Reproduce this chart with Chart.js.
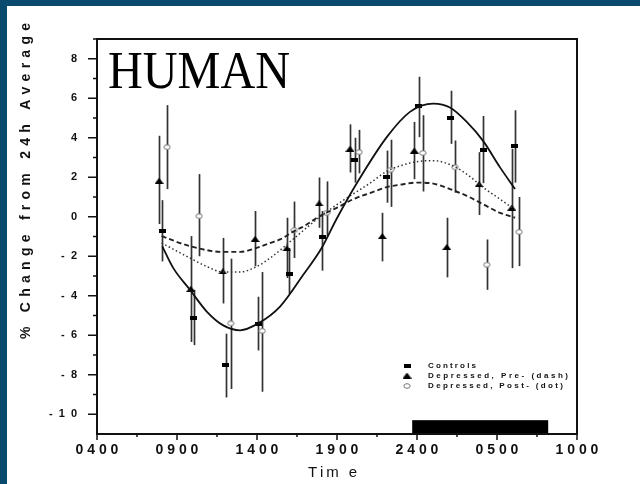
<!DOCTYPE html>
<html>
<head>
<meta charset="utf-8">
<script src="https://cdn.jsdelivr.net/npm/chart.js@4.4.1/dist/chart.umd.min.js"></script>
<style>
  html, body { margin: 0; padding: 0; background: #fff; }
  #wrap { width: 640px; height: 484px; position: relative; }
</style>
</head>
<body>
<div id="wrap"><canvas id="chart" width="640" height="484"></canvas></div>
<script>
// time in hours: 4 = 0400, 24 = midnight, 34 = 1000 next day
const xTicks = [4, 9, 14, 19, 24, 29, 34];
const xTickLabels = ['0 4 0 0', '0 9 0 0', '1 4 0 0', '1 9 0 0', '2 4 0 0', '0 5 0 0', '1 0 0 0'];
const yTicks = [-10, -8, -6, -4, -2, 0, 2, 4, 6, 8];
const yTickLabels = ['-  1  0', '-  8', '-  6', '-  4', '-  2', '0', '2', '4', '6', '8'];

// controls (filled squares)
const ctrlTime = [8.08, 10.06, 12.06, 14.08, 16.02, 18.08, 20.12, 22.1, 24.12, 26.12, 28.14, 30.12];
const ctrlMean = [-0.7, -5.12, -7.53, -5.41, -2.9, -1.0, 2.88, 2.03, 5.6, 5.0, 3.4, 3.56];
const ctrlHi   = [0.84, -3.7, -5.92, -4.05, -1.58, 0.29, 4.0, 3.35, 7.09, 6.38, 5.1, 5.39];
const ctrlLo   = [-2.26, -6.5, -9.15, -6.77, -3.9, -2.73, 1.73, 0.71, 4.03, 3.69, 1.7, 1.73];

// depressed, pre (triangles)
const preTime = [7.88, 9.86, 11.86, 13.88, 15.86, 17.88, 19.81, 21.83, 23.83, 25.86, 27.88, 29.92];
const preMean = [1.82, -3.65, -2.77, -1.12, -1.6, 0.68, 3.44, -0.98, 3.35, -1.53, 1.65, 0.46];
const preHi   = [4.1, -0.98, -1.07, 0.29, -0.05, 1.99, 4.68, 0.2, 4.8, -0.05, 3.27, 3.44];
const preLo   = [-0.37, -6.34, -4.39, -2.5, -3.1, -0.56, 2.24, -2.26, 1.9, -3.07, 0.09, -2.6];

// depressed, post (open circles)
const postTime = [8.38, 10.38, 12.36, 14.33, 16.33, 18.35, 20.38, 22.35, 24.36, 26.38, 28.36, 30.38];
const postMean = [3.52, 0.03, -5.4, -5.78, -0.68, 0.2, 3.27, 2.38, 3.23, 2.5, -2.43, -0.77];
const postHi   = [5.65, 2.16, -2.12, -2.8, 0.77, 1.79, 4.4, 3.9, 5.14, 3.86, -1.15, 1.0];
const postLo   = [1.4, -2.0, -8.72, -8.86, -2.09, -1.0, 2.2, 0.5, 1.28, 1.22, -3.7, -2.5];

// fitted curves
const ctrlFitTime = [8.08, 8.77, 9.81, 10.86, 11.89, 12.94, 14.08, 15.44, 16.89, 18.04, 18.98, 20.33, 22.11, 23.56, 25.02, 26.06, 27.11, 28.14, 29.19, 30.13];
const ctrlFit     = [-1.5, -2.6, -3.7, -4.8, -5.5, -5.75, -5.4, -4.55, -2.94, -1.58, -0.1, 1.82, 4.03, 5.31, 5.73, 5.53, 4.8, 3.83, 2.5, 1.4];
const preFitTime = [8.04, 9.81, 11.89, 12.94, 13.98, 14.81, 15.44, 16.38, 16.89, 17.94, 18.98, 20.02, 21.06, 22.11, 22.94, 23.98, 25.02, 26.06, 27.11, 28.14, 29.19, 30.13];
const preFit     = [-0.98, -1.49, -1.78, -1.78, -1.58, -1.33, -1.15, -0.7, -0.5, 0.04, 0.45, 0.89, 1.2, 1.5, 1.62, 1.73, 1.68, 1.4, 1.06, 0.63, 0.2, -0.05];
const postFitTime = [8.04, 9.81, 10.86, 11.89, 12.94, 13.98, 14.81, 16.38, 17.94, 19.5, 21.06, 22.11, 23.56, 24.2, 25.02, 26.06, 27.11, 28.14, 29.19, 30.13];
const postFit     = [-1.33, -2.09, -2.52, -2.8, -2.8, -2.52, -2.1, -1.05, 0.0, 0.89, 1.7, 2.3, 2.72, 2.81, 2.84, 2.64, 2.16, 1.48, 0.89, 0.35];

// dark period bar (hours)
const nightBar = [23.7, 32.2];
const nightBarTop = -10.3;

const legendLabels = ['Controls', 'Depressed, Pre- (dash)', 'Depressed, Post- (dot)'];

const FONT = '"Liberation Sans", Arial, sans-serif';

function pts(xs, ys) { return xs.map((x, i) => ({ x: x, y: ys[i] })); }

function rectMark() {
    const c = document.createElement('canvas');
    c.width = 7; c.height = 4;
    const g = c.getContext('2d');
    g.fillStyle = '#000';
    g.fillRect(0, 0, 7, 4);
    return c;
}
function triMark() {
    const c = document.createElement('canvas');
    c.width = 9; c.height = 6;
    const g = c.getContext('2d');
    g.fillStyle = '#000';
    g.beginPath();
    g.moveTo(0, 6); g.lineTo(4.5, 0); g.lineTo(9, 6); g.closePath();
    g.fill();
    return c;
}
function circMark() {
    const c = document.createElement('canvas');
    c.width = 8; c.height = 6;
    const g = c.getContext('2d');
    g.fillStyle = '#fff';
    g.strokeStyle = '#777';
    g.lineWidth = 1;
    g.beginPath();
    g.ellipse(4, 3, 3.2, 2.3, 0, 0, Math.PI * 2);
    g.fill(); g.stroke();
    return c;
}
const mkRect = rectMark(), mkTri = triMark(), mkCirc = circMark();

// draws text with its letters spread over a given width
function spaced(ctx, text, x, y, width) {
    const chars = [...text];
    const natural = chars.reduce((s, c) => s + ctx.measureText(c).width, 0);
    const gap = (width - natural) / (chars.length - 1);
    let cx = x;
    chars.forEach(c => {
        ctx.fillText(c, cx, y);
        cx += ctx.measureText(c).width + gap;
    });
}

const errorBars = {
    id: 'errorBars',
    beforeDatasetsDraw(chart) {
        const ctx = chart.ctx, xs = chart.scales.x, ys = chart.scales.y;
        ctx.save();
        // lights-off bar
        ctx.fillStyle = '#000';
        const bx0 = xs.getPixelForValue(nightBar[0]), bx1 = xs.getPixelForValue(nightBar[1]);
        const by0 = ys.getPixelForValue(nightBarTop);
        ctx.fillRect(bx0, by0, bx1 - bx0, chart.chartArea.bottom - by0);

        ctx.strokeStyle = '#333';
        ctx.lineWidth = 1.7;
        [[ctrlTime, ctrlHi, ctrlLo], [preTime, preHi, preLo], [postTime, postHi, postLo]].forEach(s => {
            s[0].forEach((t, i) => {
                const px = Math.round(xs.getPixelForValue(t)) + 0.5;
                ctx.beginPath();
                ctx.moveTo(px, ys.getPixelForValue(s[1][i]));
                ctx.lineTo(px, ys.getPixelForValue(s[2][i]));
                ctx.stroke();
            });
        });
        ctx.restore();
    },
    afterDraw(chart) {
        const ctx = chart.ctx, xs = chart.scales.x, ys = chart.scales.y, a = chart.chartArea;
        ctx.save();
        // page frame
        ctx.fillStyle = '#0a4a6e';
        ctx.fillRect(0, 0, 640, 6);
        ctx.fillRect(0, 0, 7, 484);

        // plot box
        ctx.strokeStyle = '#111';
        ctx.lineWidth = 2;
        ctx.strokeRect(a.left, a.top, a.right - a.left, a.bottom - a.top);

        // tick marks
        ctx.lineWidth = 1.5;
        ctx.beginPath();
        xTicks.forEach((v, i) => {
            const px = xs.getPixelForValue(v);
            ctx.moveTo(px, a.bottom); ctx.lineTo(px, a.bottom + 6);
            if (i < xTicks.length - 1) {
                const mx = xs.getPixelForValue((v + xTicks[i + 1]) / 2);
                ctx.moveTo(mx, a.bottom); ctx.lineTo(mx, a.bottom + 3);
            }
        });
        yTicks.forEach((v, i) => {
            const py = ys.getPixelForValue(v);
            ctx.moveTo(a.left, py); ctx.lineTo(a.left - 9, py);
            const my = ys.getPixelForValue(v + 1);
            ctx.moveTo(a.left, my); ctx.lineTo(a.left - 4, my);
        });
        ctx.stroke();

        // axis titles
        ctx.fillStyle = '#111';
        ctx.textBaseline = 'alphabetic';
        ctx.textAlign = 'left';
        ctx.font = 'bold 14px ' + FONT;
        ctx.save();
        ctx.translate(30, 339);
        ctx.rotate(-Math.PI / 2);
        spaced(ctx, '% Change from 24h Average', 0, 0, 316);
        ctx.restore();
        ctx.font = '15px ' + FONT;
        spaced(ctx, 'Tim e', 308, 477, 49);

        // panel label
        ctx.font = '52px "Liberation Serif", "Times New Roman", serif';
        const w = ctx.measureText('HUMAN').width;
        ctx.save();
        ctx.translate(108, 88);
        ctx.scale(182 / w, 1);
        ctx.fillStyle = '#000';
        ctx.fillText('HUMAN', 0, 0);
        ctx.restore();

        // legend
        const marks = [mkRect, mkTri, mkCirc];
        const rows = [365.5, 375.5, 386];
        const widths = [48, 140, 135];
        ctx.font = 'bold 8px ' + FONT;
        ctx.textBaseline = 'middle';
        legendLabels.forEach((t, i) => {
            const m = marks[i];
            ctx.drawImage(m, 407 - m.width / 2, rows[i] - m.height / 2);
            spaced(ctx, t, 428, rows[i], widths[i]);
        });
        ctx.restore();
    }
};

const ctx = document.getElementById('chart');
new Chart(ctx, {
    type: 'scatter',
    plugins: [errorBars],
    data: {
        datasets: [
            {
                label: 'Controls fit',
                type: 'line',
                data: pts(ctrlFitTime, ctrlFit),
                borderColor: '#111',
                borderWidth: 1.8,
                pointRadius: 0,
                cubicInterpolationMode: 'monotone',
                fill: false
            },
            {
                label: 'Pre fit',
                type: 'line',
                data: pts(preFitTime, preFit),
                borderColor: '#222',
                borderWidth: 1.9,
                borderDash: [5, 3],
                pointRadius: 0,
                cubicInterpolationMode: 'monotone',
                fill: false
            },
            {
                label: 'Post fit',
                type: 'line',
                data: pts(postFitTime, postFit),
                borderColor: '#333',
                borderWidth: 1.5,
                borderDash: [1.5, 2.5],
                pointRadius: 0,
                cubicInterpolationMode: 'monotone',
                fill: false
            },
            {
                label: legendLabels[0],
                data: pts(ctrlTime, ctrlMean),
                pointStyle: mkRect,
                pointRadius: 4
            },
            {
                label: legendLabels[1],
                data: pts(preTime, preMean),
                pointStyle: mkTri,
                pointRadius: 4
            },
            {
                label: legendLabels[2],
                data: pts(postTime, postMean),
                pointStyle: mkCirc,
                pointRadius: 4
            }
        ]
    },
    options: {
        responsive: false,
        animation: false,
        layout: { padding: { left: 0, top: 39, right: 63, bottom: 0 } },
        plugins: {
            legend: { display: false },
            tooltip: { enabled: false }
        },
        scales: {
            x: {
                type: 'linear',
                min: 4,
                max: 34,
                grid: { display: false, drawTicks: false },
                border: { display: false },
                afterBuildTicks: s => { s.ticks = xTicks.map(v => ({ value: v })); },
                afterFit: s => { s.height = 50; },
                ticks: {
                    padding: 8,
                    color: '#111',
                    maxRotation: 0,
                    autoSkip: false,
                    font: { family: FONT, size: 14, weight: 'bold' },
                    callback: v => xTickLabels[xTicks.indexOf(v)]
                }
            },
            y: {
                type: 'linear',
                min: -11,
                max: 9,
                grid: { display: false, drawTicks: false },
                border: { display: false },
                afterBuildTicks: s => { s.ticks = yTicks.map(v => ({ value: v })); },
                afterFit: s => { s.width = 97; },
                ticks: {
                    padding: 20,
                    color: '#111',
                    autoSkip: false,
                    font: { family: FONT, size: 11, weight: 'bold' },
                    callback: v => yTickLabels[yTicks.indexOf(v)]
                }
            }
        }
    }
});
</script>
</body>
</html>
